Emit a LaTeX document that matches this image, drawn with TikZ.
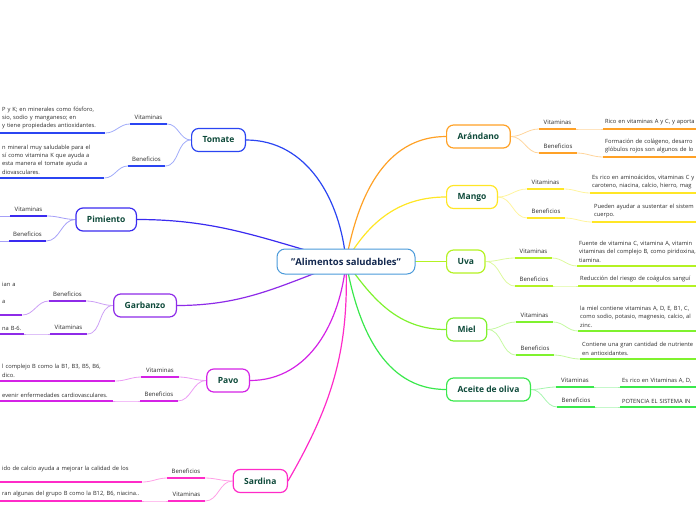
\documentclass[tikz,border=0pt]{standalone}
\usepackage{fontspec}
\setmainfont{Open Sans}
\usetikzlibrary{backgrounds}
\definecolor{rootline}{HTML}{4A9ADA}
\definecolor{roottext}{HTML}{13284F}
\definecolor{topictext}{HTML}{0E4A3A}
\definecolor{labeltext}{HTML}{2A2A2A}
\definecolor{ctomate}{HTML}{2B45F2}
\definecolor{cpimiento}{HTML}{3A2BF0}
\definecolor{cgarbanzo}{HTML}{8E2BE8}
\definecolor{cpavo}{HTML}{D423E6}
\definecolor{csardina}{HTML}{FF2BC8}
\definecolor{carandano}{HTML}{FFA126}
\definecolor{cmango}{HTML}{FFE626}
\definecolor{cuva}{HTML}{B4F223}
\definecolor{cmiel}{HTML}{7FF22E}
\definecolor{caceite}{HTML}{3AE84C}
\tikzset{
  rootbox/.style={draw=rootline, line width=1pt, rounded corners=8pt, fill=white,
    minimum width=138pt, minimum height=25pt,
    font=\fontsize{9.5}{11}\selectfont\bfseries, text=roottext},
  topicbox/.style={draw=#1, line width=1.2pt, rounded corners=7pt, fill=white,
    minimum height=23pt, inner xsep=11pt,
    font=\fontsize{8.5}{10}\selectfont\bfseries, text=topictext},
  sublabel/.style={minimum width=37pt, inner xsep=0pt, inner ysep=4pt, anchor=south,
    font=\fontsize{6}{7}\selectfont, text=labeltext},
  leaf/.style={align=left, inner xsep=2pt, inner ysep=3.5pt,
    font=\fontsize{5.75}{8.3}\selectfont, text=labeltext},
  leafr/.style={leaf, anchor=south west, text width=150pt},
  leafl/.style={leaf, anchor=south west, text width=#1},
  branch/.style={draw=#1, line width=1.2pt},
  twig/.style={draw=#1!45, line width=0.8pt},
  underl/.style={draw=#1, line width=1.6pt}
}
\begin{document}
\begin{tikzpicture}[x=1pt,y=1pt]
  \useasboundingbox (0,0) rectangle (696,-520);
  % centre
  \node[rootbox] (root) at (346,-261.5) {"Alimentos saludables"};
  % right side
  \node[topicbox=carandano, anchor=west] (arandano) at (446,-136.5) {Arándano};
  \node[topicbox=cmango, anchor=west] (mango) at (446,-197) {Mango};
  \node[topicbox=cuva, anchor=west] (uva) at (446,-261.5) {Uva};
  \node[topicbox=cmiel, anchor=west] (miel) at (446,-329.5) {Miel};
  \node[topicbox=caceite, anchor=west] (aceite) at (446,-389.5) {Aceite de oliva};
  % left side
  \node[topicbox=ctomate, anchor=east] (tomate) at (246,-140) {Tomate};
  \node[topicbox=cpimiento, anchor=east] (pimiento) at (137,-219.5) {Pimiento};
  \node[topicbox=cgarbanzo, anchor=east] (garbanzo) at (177,-305.5) {Garbanzo};
  \node[topicbox=cpavo, anchor=east] (pavo) at (250,-380.5) {Pavo};
  \node[topicbox=csardina, anchor=east] (sardina) at (288,-481) {Sardina};

  % Arandano
  \node[sublabel] (arvit) at (557.5,-129) {Vitaminas};
  \node[sublabel] (arben) at (558,-153) {Beneficios};
  \node[leafr] (arvitt) at (603,-129) {Rico en vitaminas A y C, y aporta};
  \node[leafr] (arbent) at (603,-157) {Formación de colágeno, desarro\\glóbulos rojos son algunos de lo};
  % Mango
  \node[sublabel] (mavit) at (545.5,-189) {Vitaminas};
  \node[sublabel] (maben) at (546,-218) {Beneficios};
  \node[leafr] (mavitt) at (590,-193) {Es rico en aminoácidos, vitaminas C y\\caroteno, niacina, calcio, hierro, mag};
  \node[leafr] (mabent) at (592,-222) {Pueden ayudar a sustentar el sistem\\cuerpo.};
  % Uva
  \node[sublabel] (uvvit) at (533.5,-258) {Vitaminas};
  \node[sublabel] (uvben) at (534,-286) {Beneficios};
  \node[leafr] (uvvitt) at (577,-266) {Fuente de vitamina C, vitamina A, vitamin\\vitaminas del complejo B, como piridoxina,\\tiamina.};
  \node[leafr] (uvbent) at (578,-286) {Reducción del riesgo de coágulos sanguí};
  % Miel
  \node[sublabel] (mivit) at (534.5,-322) {Vitaminas};
  \node[sublabel] (miben) at (535,-355) {Beneficios};
  \node[leafr] (mivitt) at (578,-331) {la miel contiene vitaminas A, D, E, B1, C,\\como sodio, potasio, magnesio, calcio, al\\zinc.};
  \node[leafr] (mibent) at (580,-359) {Contiene una gran cantidad de nutriente\\en antioxidantes.};
  % Aceite de oliva
  \node[sublabel] (acvit) at (575,-387) {Vitaminas};
  \node[sublabel] (acben) at (576,-407) {Beneficios};
  \node[leafr] (acvitt) at (620,-387) {Es rico en Vitaminas A, D,};
  \node[leafr] (acbent) at (620,-407) {POTENCIA EL SISTEMA IN};

  % Tomate
  \node[sublabel] (tovit) at (148.5,-124) {Vitaminas};
  \node[sublabel] (toben) at (146.5,-166) {Beneficios};
  \node[leafl=101pt] (tovitt) at (0,-133) {\mbox{P y K; en minerales como fósforo,}\\sio, sodio y manganeso; en\\\mbox{y tiene propiedades antioxidantes.}};
  \node[leafl=100pt] (tobent) at (0,-178) {n mineral muy saludable para el\\sí como vitamina K que ayuda a\\esta manera el tomate ayuda a\\diovasculares.};
  % Pimiento
  \node[sublabel] (pivit) at (28.5,-216) {Vitaminas};
  \node[sublabel] (piben) at (27.5,-241) {Beneficios};
  \coordinate (pivitt) at (-2,-216);
  \coordinate (pibent) at (-2,-241);
  % Garbanzo
  \node[sublabel] (gaben) at (67.5,-301) {Beneficios};
  \node[sublabel] (gavit) at (68.5,-334) {Vitaminas};
  \node[leafl=18pt] (gabent) at (0,-315) {ian a\\\mbox{}\\a\\\mbox{}};
  \node[leafl=20pt] (gavitt) at (0,-334) {\mbox{na B-6.}};
  % Pavo
  \node[sublabel] (pavit) at (160,-377) {Vitaminas};
  \node[sublabel] (paben) at (159,-401) {Beneficios};
  \node[leafl=111pt] (pavitt) at (0,-381) {\mbox{l complejo B como la B1, B3, B5, B6,}\\dico.};
  \node[leafl=109pt] (pabent) at (0,-401) {\mbox{evenir enfermedades cardiovasculares.}};
  % Sardina
  \node[sublabel] (saben) at (186,-478) {Beneficios};
  \node[sublabel] (savit) at (186.5,-501) {Vitaminas};
  \node[leafl=138pt] (sabent) at (0,-482) {\mbox{ido de calcio ayuda a mejorar la calidad de los}\\\mbox{}};
  \node[leafl=138pt] (savitt) at (0,-501) {\mbox{ran algunas del grupo B como la B12, B6, niacina..}};

  \begin{pgfonlayer}{background}
    % main branches
    \draw[branch=ctomate] (root.center) to[out=95,in=0] (tomate.east);
    \draw[branch=cpimiento] (root.center) to[out=165,in=0] (pimiento.east);
    \draw[branch=cgarbanzo] (root.center) to[out=200,in=0] (garbanzo.east);
    \draw[branch=cpavo] (root.center) to[out=265,in=0] (pavo.east);
    \draw[branch=csardina] (root.center) to[out=272,in=60] (sardina.east);
    \draw[branch=carandano] (root.center) to[out=80,in=180] (arandano.west);
    \draw[branch=cmango] (root.center) to[out=60,in=180] (mango.west);
    \draw[branch=cuva] (root.center) -- (uva.west);
    \draw[branch=cmiel] (root.center) to[out=-55,in=180] (miel.west);
    \draw[branch=caceite] (root.center) to[out=-80,in=180] (aceite.west);
    % right twigs
    \draw[twig=carandano] (arandano.east) to[out=0,in=180] (arvit.south west);
    \draw[twig=carandano] (arandano.east) to[out=0,in=180] (arben.south west);
    \draw[twig=carandano] (arvit.south east) to[out=0,in=180] (arvitt.south west);
    \draw[twig=carandano] (arben.south east) to[out=0,in=180] (arbent.south west);
    \draw[twig=cmango] (mango.east) to[out=0,in=180] (mavit.south west);
    \draw[twig=cmango] (mango.east) to[out=0,in=180] (maben.south west);
    \draw[twig=cmango] (mavit.south east) to[out=0,in=180] (mavitt.south west);
    \draw[twig=cmango] (maben.south east) to[out=0,in=180] (mabent.south west);
    \draw[twig=cuva] (uva.east) to[out=0,in=180] (uvvit.south west);
    \draw[twig=cuva] (uva.east) to[out=0,in=180] (uvben.south west);
    \draw[twig=cuva] (uvvit.south east) to[out=0,in=180] (uvvitt.south west);
    \draw[twig=cuva] (uvben.south east) to[out=0,in=180] (uvbent.south west);
    \draw[twig=cmiel] (miel.east) to[out=0,in=180] (mivit.south west);
    \draw[twig=cmiel] (miel.east) to[out=0,in=180] (miben.south west);
    \draw[twig=cmiel] (mivit.south east) to[out=0,in=180] (mivitt.south west);
    \draw[twig=cmiel] (miben.south east) to[out=0,in=180] (mibent.south west);
    \draw[twig=caceite] (aceite.east) to[out=0,in=180] (acvit.south west);
    \draw[twig=caceite] (aceite.east) to[out=0,in=180] (acben.south west);
    \draw[twig=caceite] (acvit.south east) to[out=0,in=180] (acvitt.south west);
    \draw[twig=caceite] (acben.south east) to[out=0,in=180] (acbent.south west);
    % left twigs
    \draw[twig=ctomate] (tomate.west) to[out=180,in=0] (tovit.south east);
    \draw[twig=ctomate] (tomate.west) to[out=180,in=0] (toben.south east);
    \draw[twig=ctomate] (tovit.south west) to[out=180,in=0] (tovitt.south east);
    \draw[twig=ctomate] (toben.south west) to[out=180,in=0] (tobent.south east);
    \draw[twig=cpimiento] (pimiento.west) to[out=180,in=0] (pivit.south east);
    \draw[twig=cpimiento] (pimiento.west) to[out=180,in=0] (piben.south east);
    \draw[twig=cpimiento] (pivit.south west) -- (pivitt);
    \draw[twig=cpimiento] (piben.south west) -- (pibent);
    \draw[twig=cgarbanzo] (garbanzo.west) to[out=180,in=0] (gaben.south east);
    \draw[twig=cgarbanzo] (garbanzo.west) to[out=180,in=0] (gavit.south east);
    \draw[twig=cgarbanzo] (gaben.south west) to[out=180,in=0] (gabent.south east);
    \draw[twig=cgarbanzo] (gavit.south west) to[out=180,in=0] (gavitt.south east);
    \draw[twig=cpavo] (pavo.west) to[out=180,in=0] (pavit.south east);
    \draw[twig=cpavo] (pavo.west) to[out=180,in=0] (paben.south east);
    \draw[twig=cpavo] (pavit.south west) to[out=180,in=0] (pavitt.south east);
    \draw[twig=cpavo] (paben.south west) to[out=180,in=0] (pabent.south east);
    \draw[twig=csardina] (sardina.west) to[out=180,in=0] (saben.south east);
    \draw[twig=csardina] (sardina.west) to[out=180,in=0] (savit.south east);
    \draw[twig=csardina] (saben.south west) to[out=180,in=0] (sabent.south east);
    \draw[twig=csardina] (savit.south west) to[out=180,in=0] (savitt.south east);
  \end{pgfonlayer}

  % underlines
  \foreach \n/\c in {arvit/carandano,arben/carandano,arvitt/carandano,arbent/carandano,
      mavit/cmango,maben/cmango,mavitt/cmango,mabent/cmango,
      uvvit/cuva,uvben/cuva,uvvitt/cuva,uvbent/cuva,
      mivit/cmiel,miben/cmiel,mivitt/cmiel,mibent/cmiel,
      acvit/caceite,acben/caceite,acvitt/caceite,acbent/caceite,
      tovit/ctomate,toben/ctomate,tovitt/ctomate,tobent/ctomate,
      pivit/cpimiento,piben/cpimiento,
      gaben/cgarbanzo,gavit/cgarbanzo,gabent/cgarbanzo,gavitt/cgarbanzo,
      pavit/cpavo,paben/cpavo,pavitt/cpavo,pabent/cpavo,
      saben/csardina,savit/csardina,sabent/csardina,savitt/csardina}
    \draw[underl=\c] (\n.south west) -- (\n.south east);
\end{tikzpicture}
\end{document}
